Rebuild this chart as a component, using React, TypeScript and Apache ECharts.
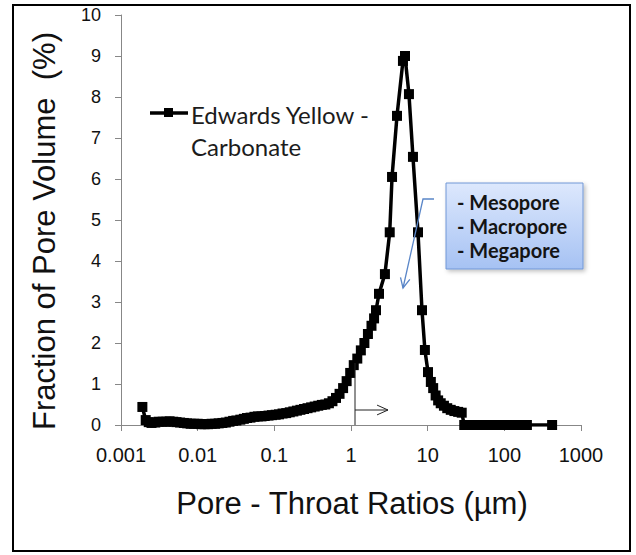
import React, { useEffect, useRef } from "react";
import * as echarts from "echarts";

// Pore-throat ratio (µm) and fraction of pore volume (%)
const poreThroat: number[] = [
  0.0019, 0.0021, 0.0023, 0.0025, 0.0028, 0.0031, 0.0035, 0.0039, 0.0043, 0.0048,
  0.0053, 0.0059, 0.0066, 0.0073, 0.0081, 0.009, 0.01, 0.011, 0.0123, 0.0137,
  0.0152, 0.0169, 0.0188, 0.021, 0.0233, 0.026, 0.029, 0.032, 0.036, 0.04,
  0.044, 0.049, 0.055, 0.061, 0.068, 0.075, 0.084, 0.093, 0.104, 0.115,
  0.128, 0.143, 0.159, 0.177, 0.197, 0.219, 0.244, 0.271, 0.302, 0.336,
  0.374, 0.416, 0.463, 0.515, 0.573, 0.637, 0.709, 0.789, 0.877, 0.976,
  1.086, 1.208, 1.344, 1.495, 1.663, 1.85, 2.0, 2.12, 2.32, 2.77,
  3.2, 3.43, 3.98, 4.76, 5.06, 5.7, 6.43, 7.48, 8.43, 9.2,
  10.1, 11.0, 11.8, 12.7, 13.7, 14.8, 16.3, 18.0, 20.0, 22.3,
  25.0, 27.8, 30, 33, 36, 40, 44, 48, 53, 58,
  64, 70, 77, 85, 93, 103, 113, 124, 137, 150,
  165, 181, 197, 420,
];
const poreVolume: number[] = [
  0.44, 0.12, 0.07, 0.05, 0.06, 0.08, 0.08, 0.08, 0.09, 0.08,
  0.07, 0.06, 0.05, 0.04, 0.03, 0.03, 0.03, 0.02, 0.02, 0.02,
  0.03, 0.03, 0.04, 0.05, 0.06, 0.08, 0.1, 0.11, 0.13, 0.15,
  0.17, 0.18, 0.2, 0.21, 0.21, 0.22, 0.23, 0.24, 0.25, 0.26,
  0.28, 0.29, 0.31, 0.33, 0.35, 0.37, 0.39, 0.41, 0.43, 0.45,
  0.47, 0.49, 0.5, 0.53, 0.58, 0.66, 0.76, 0.9, 1.07, 1.27,
  1.46, 1.62, 1.82, 2.0, 2.22, 2.42, 2.6, 2.8, 3.2, 3.68,
  4.7, 6.05, 7.54, 8.88, 9.0, 8.07, 6.54, 4.7, 2.8, 1.83,
  1.29, 1.05, 0.9, 0.72, 0.6, 0.53, 0.47, 0.41, 0.37, 0.34,
  0.32, 0.3, 0, 0, 0, 0, 0, 0, 0, 0,
  0, 0, 0, 0, 0, 0, 0, 0, 0, 0,
  0, 0, 0, 0,
];

const seriesName = "Edwards Yellow - Carbonate";
const legendLines = ["Edwards Yellow -", "Carbonate"];
const yTicks = [0, 1, 2, 3, 4, 5, 6, 7, 8, 9, 10];
const xTickLabels: Record<string, string> = {
  "0.001": "0.001", "0.01": "0.01", "0.1": "0.1", "1": "1", "10": "10", "100": "100", "1000": "1000",
};
const poreClasses = ["- Mesopore", "- Macropore", "- Megapore"];
const xTitle = "Pore - Throat Ratios (µm)";
const yTitle = "Fraction of Pore Volume  (%)";

function chevron(tip: number[], from: number[], len: number, ang: number) {
  const dx = tip[0] - from[0];
  const dy = tip[1] - from[1];
  const a = Math.atan2(dy, dx);
  const p1 = [tip[0] - len * Math.cos(a - ang), tip[1] - len * Math.sin(a - ang)];
  const p2 = [tip[0] - len * Math.cos(a + ang), tip[1] - len * Math.sin(a + ang)];
  return [p1, tip, p2];
}

export default function App() {
  const ref = useRef<HTMLDivElement>(null);
  useEffect(() => {
    if (!ref.current) return;
    const chart = echarts.init(ref.current, null, { renderer: "svg" });
    const data = poreThroat.map((x, i) => [x, poreVolume[i]]);
    const axisGrey = "#878787";
    const blue = "#5a86c8";
    const blueTip = [403, 288];
    const blueBend = [423, 199];
    const blackTip = [388, 410];
    const blackStart = [355, 410];

    chart.setOption({
      animation: false,
      backgroundColor: "#ffffff",
      grid: { left: 121, right: 55, top: 15, bottom: 130, containLabel: false },
      xAxis: {
        type: "log",
        logBase: 10,
        min: 0.001,
        max: 1000,
        axisLine: { lineStyle: { color: axisGrey, width: 1 } },
        axisTick: { show: true, length: 6, inside: false, lineStyle: { color: axisGrey } },
        minorTick: { show: false },
        splitLine: { show: false },
        axisLabel: {
          margin: 20,
          fontFamily: "Liberation Sans, Arial, sans-serif",
          fontSize: 20,
          color: "#111",
          formatter: (v: number) => {
            const k = String(+v.toPrecision(6));
            return xTickLabels[k] ?? k;
          },
        },
      },
      yAxis: {
        type: "value",
        min: yTicks[0],
        max: yTicks[yTicks.length - 1],
        interval: 1,
        axisLine: { show: true, lineStyle: { color: axisGrey, width: 1 } },
        axisTick: { show: true, length: 6, inside: false, lineStyle: { color: axisGrey } },
        splitLine: { show: false },
        axisLabel: {
          margin: 20,
          fontFamily: "Liberation Sans, Arial, sans-serif",
          fontSize: 18,
          color: "#111",
        },
      },
      series: [
        {
          name: seriesName,
          type: "line",
          data,
          symbol: "rect",
          symbolSize: 10,
          showSymbol: true,
          itemStyle: { color: "#000000" },
          lineStyle: { color: "#000000", width: 3.5 },
          z: 5,
        },
      ],
      graphic: [
        {
          type: "rect",
          z: 50,
          shape: { x: 13, y: 5, width: 617, height: 546 },
          style: { fill: "none", stroke: "#000", lineWidth: 2 },
          silent: true,
        },
        {
          type: "text",
          z: 50,
          x: 44,
          y: 231,
          rotation: Math.PI / 2,
          style: {
            text: yTitle,
            align: "center",
            verticalAlign: "middle",
            fontFamily: "Liberation Sans, Arial, sans-serif",
            fontSize: 31,
            fill: "#111",
          },
        },
        {
          type: "text",
          z: 50,
          x: 352,
          y: 503,
          style: {
            text: xTitle,
            align: "center",
            verticalAlign: "middle",
            fontFamily: "Liberation Sans, Arial, sans-serif",
            fontSize: 31,
            fill: "#111",
          },
        },
        // legend
        {
          type: "line",
          z: 50,
          shape: { x1: 150, y1: 113, x2: 188, y2: 113 },
          style: { stroke: "#000", lineWidth: 3.5 },
        },
        {
          type: "rect",
          z: 51,
          shape: { x: 164, y: 108, width: 9, height: 9 },
          style: { fill: "#000" },
        },
        ...legendLines.map((t, i) => ({
          type: "text",
          z: 50,
          x: 191,
          y: 114 + i * 32,
          style: {
            text: t,
            align: "left",
            verticalAlign: "middle",
            fontFamily: "Lato, Open Sans, sans-serif",
            fontSize: 24,
            fill: "#1c1c1c",
          },
        })),
        // blue annotation box
        {
          type: "rect",
          z: 60,
          shape: { x: 446, y: 183, width: 137, height: 86 },
          style: {
            fill: new echarts.graphic.LinearGradient(0, 0, 0, 1, [
              { offset: 0, color: "#dde8fd" },
              { offset: 1, color: "#a6c2f3" },
            ]),
            stroke: "#7097d6",
            lineWidth: 1,
            shadowBlur: 4,
            shadowOffsetX: 2,
            shadowOffsetY: 2,
            shadowColor: "rgba(0,0,0,0.25)",
          },
        },
        ...poreClasses.map((t, i) => ({
          type: "text",
          z: 61,
          x: 457,
          y: 202 + i * 24,
          style: {
            text: t,
            align: "left",
            verticalAlign: "middle",
            fontFamily: "Lato, Open Sans, sans-serif",
            fontWeight: "bold",
            fontSize: 20,
            fill: "#141414",
          },
        })),
        // blue callout arrow
        {
          type: "polyline",
          z: 60,
          shape: { points: [[434, 199], blueBend, blueTip] },
          style: { stroke: blue, lineWidth: 1.3, fill: "none" },
        },
        {
          type: "polyline",
          z: 60,
          shape: { points: chevron(blueTip, blueBend, 11, 0.45) },
          style: { stroke: blue, lineWidth: 1.3, fill: "none" },
        },
        // black marker line + arrow
        {
          type: "line",
          z: 60,
          shape: { x1: 355, y1: 363, x2: 355, y2: 425 },
          style: { stroke: "#222", lineWidth: 1 },
        },
        {
          type: "line",
          z: 60,
          shape: { x1: blackStart[0], y1: blackStart[1], x2: blackTip[0], y2: blackTip[1] },
          style: { stroke: "#222", lineWidth: 1 },
        },
        {
          type: "polyline",
          z: 60,
          shape: { points: chevron(blackTip, blackStart, 12, 0.42) },
          style: { stroke: "#222", lineWidth: 1, fill: "none" },
        },
      ],
    });
    return () => chart.dispose();
  }, []);
  return (
    <div
      ref={ref}
      style={{ position: "absolute", left: 0, top: 0, width: 636, height: 555, background: "#fff" }}
    />
  );
}
